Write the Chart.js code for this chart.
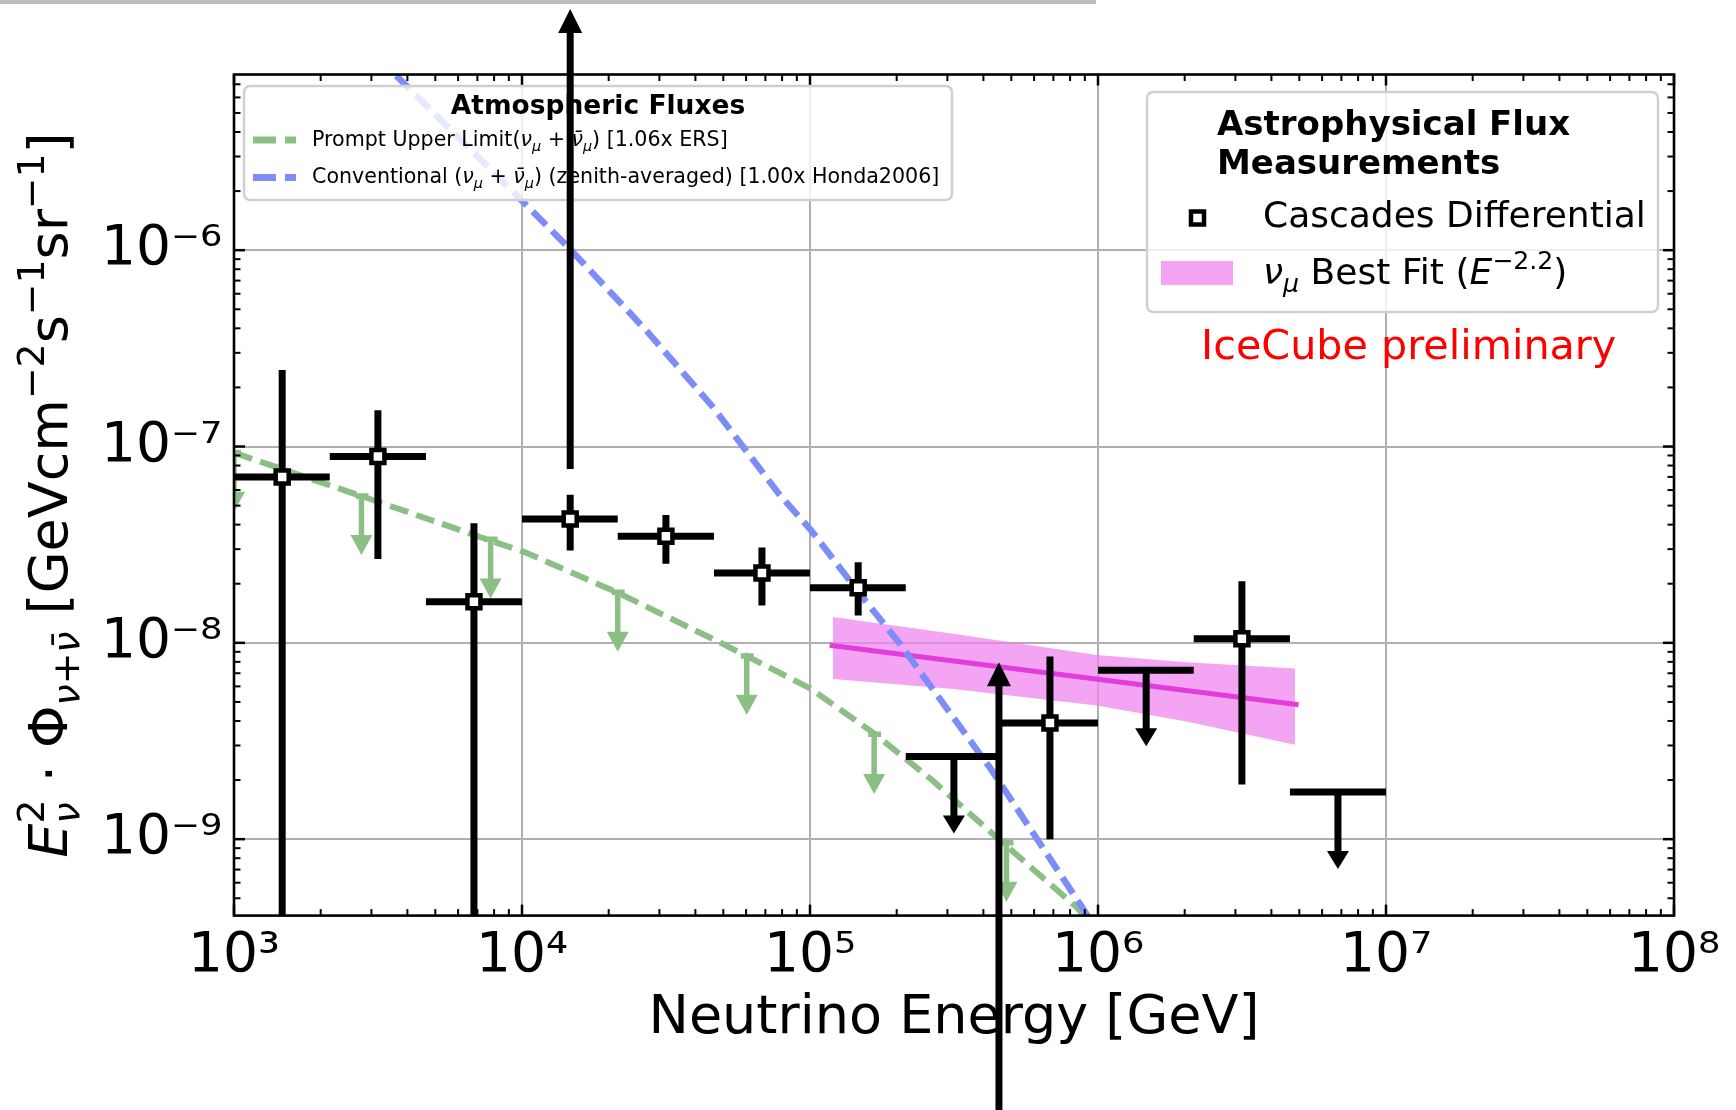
<!DOCTYPE html>
<html>
<head>
<meta charset="utf-8">
<title>Astrophysical neutrino flux – cascades differential</title>
<script src="https://cdn.jsdelivr.net/npm/chart.js@4.4.1/dist/chart.umd.min.js"></script>
<style>
html,body{margin:0;padding:0;background:#ffffff;}
#wrap{position:relative;width:1736px;height:1110px;overflow:hidden;background:#fff;}
#topbar{position:absolute;left:0;top:0;width:1096px;height:4px;background:#bdbdbd;}
canvas{display:block;}
</style>
</head>
<body>
<div id="wrap"><canvas id="chart" width="1736" height="1110"></canvas><div id="topbar"></div></div>
<script>
// ---------------- axis ticks ----------------
const xTickValues = [1e3, 1e4, 1e5, 1e6, 1e7, 1e8];
const xTickLabels = ['10³', '10⁴', '10⁵', '10⁶', '10⁷', '10⁸'];
const yTickValues = [1e-9, 1e-8, 1e-7, 1e-6];
const yTickLabels = ['10⁻⁹', '10⁻⁸', '10⁻⁷', '10⁻⁶'];
const xMin = 1e3, xMax = 1e8;
const yMin = 4.08e-10, yMax = 7.85e-6;

// ---------------- Cascades differential (measured bins) ----------------
const cascE     = [1.47e3, 3.16e3, 6.81e3, 1.47e4, 3.16e4, 6.81e4, 1.47e5, 6.81e5, 3.16e6];
const cascBinLo = [1.0e3, 2.15e3, 4.64e3, 1.0e4, 2.15e4, 4.64e4, 1.0e5, 4.64e5, 2.15e6];
const cascBinHi = [2.15e3, 4.64e3, 1.0e4, 2.15e4, 4.64e4, 1.0e5, 2.15e5, 1.0e6, 4.64e6];
const cascFlux  = [7.0e-8, 8.9e-8, 1.62e-8, 4.27e-8, 3.49e-8, 2.27e-8, 1.91e-8, 3.91e-9, 1.05e-8];
const cascErrHi = [2.45e-7, 1.53e-7, 4.07e-8, 5.68e-8, 4.48e-8, 3.06e-8, 2.57e-8, 8.53e-9, 2.06e-8];
const cascErrLo = [1e-12, 2.67e-8, 1e-12, 2.95e-8, 2.53e-8, 1.55e-8, 1.38e-8, 1.0e-9, 1.90e-9];

// ---------------- Cascades upper limits ----------------
const ulE      = [3.16e5, 1.47e6, 6.81e6];
const ulBinLo  = [2.15e5, 1.0e6, 4.64e6];
const ulBinHi  = [4.64e5, 2.15e6, 1.0e7];
const ulFlux   = [2.64e-9, 7.24e-9, 1.74e-9];
const ulTip    = [1.07e-9, 2.97e-9, 7.05e-10];

// ---------------- overlay arrows ----------------
const bigArrowE    = [1.47e4, 4.53e5];
const bigArrowFrom = [7.69e-8, 1e-11];
const bigArrowTo   = [1.69e-5, 7.96e-9];

// ---------------- Prompt upper limit (ERS) ----------------
const promptE = [1.0e3, 2.81e3, 7.11e3, 1.02e4, 2.15e4, 4.9e4, 1.0e5, 1.65e5, 2.61e5, 4.26e5, 8.36e5, 9.1e5];
const promptF = [9.3e-8, 5.55e-8, 3.47e-8, 2.9e-8, 1.8e-8, 1.0e-8, 5.87e-9, 3.5e-9, 2.04e-9, 1.08e-9, 4.55e-10, 4.0e-10];
const promptArrowE   = [1.0e3, 2.77e3, 7.78e3, 2.15e4, 6.03e4, 1.67e5, 4.81e5];
const promptArrowTop = [9.3e-8, 5.6e-8, 3.37e-8, 1.81e-8, 8.58e-9, 3.42e-9, 9.6e-10];
const promptArrowTip = [4.65e-8, 2.8e-8, 1.68e-8, 9.0e-9, 4.3e-9, 1.7e-9, 4.8e-10];

// ---------------- Conventional (Honda2006) ----------------
const convE = [3.66e3, 1.01e4, 1.50e4, 2.70e4, 4.60e4, 7.85e4, 1.0e5, 1.53e5, 2.04e5, 4.26e5, 8.61e5, 9.27e5];
const convF = [7.74e-6, 1.76e-6, 9.8e-7, 3.9e-7, 1.59e-7, 5.67e-8, 3.8e-8, 1.69e-8, 1.0e-8, 2.26e-9, 4.73e-10, 4.0e-10];

// ---------------- nu_mu best fit ----------------
const fitLineE  = [1.17e5, 4.97e6];
const fitLineF  = [9.71e-9, 4.84e-9];
const fitBandE  = [1.2e5, 3.14e5, 9.9e5, 2.03e6, 4.83e6];
const fitBandHi = [1.355e-8, 1.114e-8, 8.67e-9, 7.96e-9, 7.41e-9];
const fitBandLo = [6.54e-9, 5.82e-9, 4.79e-9, 3.98e-9, 3.03e-9];

// ---------------- style ----------------
const FAM = '"DejaVu Sans"';
const GREEN = '#8cbf86';
const BLUE = '#7c8df7';
const MAGENTA = '#e23ddb';
const BAND = 'rgba(238,130,238,0.72)';
const GRID = '#b0b0b0';

const pts = (xs, ys) => xs.map((x, i) => ({x: x, y: ys[i]}));

// ---------------- rich text helpers ----------------
function segFont(seg, base) {
  const size = base * (seg.s || 1);
  return (seg.i ? 'italic ' : '') + (seg.b ? 'bold ' : '') + size + 'px ' + FAM;
}
function layoutRich(ctx, segs, base) {
  let x = 0, lastStart = 0, lastEnd = 0;
  const items = [];
  for (const seg of segs) {
    ctx.font = segFont(seg, base);
    const w = ctx.measureText(seg.t).width;
    let sx;
    if (seg.stack) { sx = lastStart; x = Math.max(lastEnd, sx + w); }
    else { sx = x; x = sx + w; lastStart = sx; }
    lastEnd = x;
    items.push({seg: seg, x: sx});
  }
  return {items: items, width: x};
}
function drawRich(ctx, segs, x0, y0, base, color, align) {
  const L = layoutRich(ctx, segs, base);
  const off = align === 'center' ? -L.width / 2 : 0;
  ctx.fillStyle = color;
  ctx.textAlign = 'left';
  ctx.textBaseline = 'alphabetic';
  for (const it of L.items) {
    ctx.font = segFont(it.seg, base);
    ctx.fillText(it.seg.t, x0 + off + it.x, y0 + (it.seg.dy || 0) * base);
  }
}
const SUP = {s: 0.7, dy: -0.42};
const SUB = {s: 0.7, dy: 0.22};

const yTitleSegs = [
  {t: 'E', i: 1},
  Object.assign({t: '2'}, SUP),
  Object.assign({t: 'ν', i: 1, stack: 1}, SUB),
  {t: ' · '},
  {t: 'Φ'},
  Object.assign({t: 'ν', i: 1}, SUB),
  Object.assign({t: '+'}, SUB),
  Object.assign({t: 'ν\u0304', i: 1}, SUB),
  {t: ' [GeVcm'},
  Object.assign({t: '−2'}, SUP),
  {t: 's'},
  Object.assign({t: '−1'}, SUP),
  {t: 'sr'},
  Object.assign({t: '−1'}, SUP),
  {t: ']'}
];
const numuSegs = [
  {t: '('}, {t: 'ν', i: 1}, Object.assign({t: 'μ', i: 1}, SUB), {t: ' + '},
  {t: 'ν\u0304', i: 1}, Object.assign({t: 'μ', i: 1}, SUB), {t: ')'}
];
const promptLabel = [{t: 'Prompt Upper Limit'}].concat(numuSegs, [{t: ' [1.06x ERS]'}]);
const convLabel = [{t: 'Conventional '}].concat(numuSegs, [{t: ' (zenith-averaged) [1.00x Honda2006]'}]);
const fitLabel = [{t: 'ν', i: 1}, Object.assign({t: 'μ', i: 1}, SUB), {t: ' Best Fit ('},
  {t: 'E', i: 1}, Object.assign({t: '−2.2'}, SUP), {t: ')'}];

// ---------------- drawing helpers ----------------
function vArrow(ctx, x, y0, y1, lw, hw, hl, color) {
  const dir = Math.sign(y1 - y0) || 1;
  ctx.strokeStyle = color; ctx.fillStyle = color;
  ctx.lineWidth = lw; ctx.lineCap = 'butt'; ctx.setLineDash([]);
  ctx.beginPath(); ctx.moveTo(x, y0); ctx.lineTo(x, y1 - dir * hl * 0.8); ctx.stroke();
  ctx.beginPath();
  ctx.moveTo(x, y1);
  ctx.lineTo(x - hw / 2, y1 - dir * hl);
  ctx.lineTo(x + hw / 2, y1 - dir * hl);
  ctx.closePath(); ctx.fill();
}
function hLine(ctx, x0, x1, y) { ctx.beginPath(); ctx.moveTo(x0, y); ctx.lineTo(x1, y); ctx.stroke(); }
function vLine(ctx, x, y0, y1) { ctx.beginPath(); ctx.moveTo(x, y0); ctx.lineTo(x, y1); ctx.stroke(); }
function clipArea(ctx, ca) { ctx.beginPath(); ctx.rect(ca.left, ca.top, ca.right - ca.left, ca.bottom - ca.top); ctx.clip(); }
function roundBox(ctx, x, y, w, h, r) {
  ctx.beginPath();
  ctx.moveTo(x + r, y); ctx.lineTo(x + w - r, y); ctx.quadraticCurveTo(x + w, y, x + w, y + r);
  ctx.lineTo(x + w, y + h - r); ctx.quadraticCurveTo(x + w, y + h, x + w - r, y + h);
  ctx.lineTo(x + r, y + h); ctx.quadraticCurveTo(x, y + h, x, y + h - r);
  ctx.lineTo(x, y + r); ctx.quadraticCurveTo(x, y, x + r, y); ctx.closePath();
  ctx.fillStyle = 'rgba(255,255,255,0.8)'; ctx.fill();
  ctx.strokeStyle = '#d0d0d0'; ctx.lineWidth = 2.5; ctx.setLineDash([]); ctx.stroke();
}
function minorValues(min, max) {
  const out = [];
  for (let d = Math.floor(Math.log10(min)); d <= Math.ceil(Math.log10(max)); d++) {
    for (let k = 2; k <= 9; k++) { const v = k * Math.pow(10, d); if (v > min && v < max) out.push(v); }
  }
  return out;
}
function squareMarker(ctx, x, y) {
  ctx.fillStyle = '#fff'; ctx.fillRect(x - 6.5, y - 6.5, 13, 13);
  ctx.strokeStyle = '#000'; ctx.lineWidth = 4.5; ctx.setLineDash([]); ctx.strokeRect(x - 6.5, y - 6.5, 13, 13);
}

const extras = {
  id: 'extras',
  afterDatasetDraw(chart, args) {
    if (args.index !== 2) return;
    const ctx = chart.ctx, xs = chart.scales.x, ys = chart.scales.y;
    ctx.save(); clipArea(ctx, chart.chartArea);
    for (let i = 0; i < promptArrowE.length; i++) {
      const x = xs.getPixelForValue(promptArrowE[i]);
      const y0 = ys.getPixelForValue(promptArrowTop[i]);
      const y1 = ys.getPixelForValue(promptArrowTip[i]);
      ctx.strokeStyle = GREEN; ctx.lineWidth = 5.5; ctx.setLineDash([]);
      hLine(ctx, x - 6, x + 7, y0);
      vArrow(ctx, x, y0, y1, 5.5, 22, 20, GREEN);
    }
    ctx.restore();
  },
  beforeDatasetDraw(chart, args) {
    if (args.index !== 0) return;
    const ctx = chart.ctx, xs = chart.scales.x, ys = chart.scales.y;
    ctx.save(); clipArea(ctx, chart.chartArea);
    ctx.strokeStyle = '#000'; ctx.lineWidth = 7; ctx.lineCap = 'butt'; ctx.setLineDash([]);
    for (let i = 0; i < cascE.length; i++) {
      const x = xs.getPixelForValue(cascE[i]);
      const y = ys.getPixelForValue(cascFlux[i]);
      hLine(ctx, xs.getPixelForValue(cascBinLo[i]), xs.getPixelForValue(cascBinHi[i]), y);
      vLine(ctx, x, ys.getPixelForValue(cascErrHi[i]), Math.min(ys.getPixelForValue(cascErrLo[i]), chart.chartArea.bottom + 20));
    }
    for (let i = 0; i < ulE.length; i++) {
      const x = xs.getPixelForValue(ulE[i]);
      const y = ys.getPixelForValue(ulFlux[i]);
      ctx.strokeStyle = '#000'; ctx.lineWidth = 7;
      hLine(ctx, xs.getPixelForValue(ulBinLo[i]), xs.getPixelForValue(ulBinHi[i]), y);
      vArrow(ctx, x, y, ys.getPixelForValue(ulTip[i]), 7, 22, 18, '#000');
    }
    ctx.restore();
  },
  afterDatasetsDraw(chart) {
    const ctx = chart.ctx, xs = chart.scales.x, ys = chart.scales.y, ca = chart.chartArea;
    ctx.save();
    ctx.strokeStyle = '#000'; ctx.setLineDash([]); ctx.lineCap = 'butt';
    ctx.lineWidth = 2.5;
    for (const v of xTickValues) {
      const x = xs.getPixelForValue(v);
      vLine(ctx, x, ca.bottom, ca.bottom - 11); vLine(ctx, x, ca.top, ca.top + 11);
    }
    for (const v of yTickValues) {
      const y = ys.getPixelForValue(v);
      hLine(ctx, ca.left, ca.left + 11, y); hLine(ctx, ca.right, ca.right - 11, y);
    }
    ctx.lineWidth = 2;
    for (const v of minorValues(xMin, xMax)) {
      const x = xs.getPixelForValue(v);
      vLine(ctx, x, ca.bottom, ca.bottom - 6.5); vLine(ctx, x, ca.top, ca.top + 6.5);
    }
    for (const v of minorValues(yMin, yMax)) {
      const y = ys.getPixelForValue(v);
      hLine(ctx, ca.left, ca.left + 6.5, y); hLine(ctx, ca.right, ca.right - 6.5, y);
    }
    ctx.lineWidth = 2.6;
    ctx.strokeRect(ca.left, ca.top, ca.right - ca.left, ca.bottom - ca.top);
    ctx.restore();
  },
  afterDraw(chart) {
    const ctx = chart.ctx, xs = chart.scales.x, ys = chart.scales.y;
    // y-axis title
    ctx.save();
    ctx.translate(67, 495); ctx.rotate(-Math.PI / 2);
    drawRich(ctx, yTitleSegs, 0, 0, 54, '#000', 'center');
    ctx.restore();

    // Atmospheric legend
    ctx.save();
    roundBox(ctx, 244, 86, 708, 114, 7);
    ctx.fillStyle = '#000'; ctx.font = 'bold 26.5px ' + FAM; ctx.textAlign = 'center'; ctx.textBaseline = 'alphabetic';
    ctx.fillText('Atmospheric Fluxes', 598, 114);
    ctx.lineCap = 'butt';
    ctx.setLineDash([23, 9]); ctx.lineWidth = 7;
    ctx.strokeStyle = GREEN; hLine(ctx, 253, 296, 140);
    ctx.strokeStyle = BLUE; hLine(ctx, 253, 296, 177.5);
    ctx.setLineDash([]);
    drawRich(ctx, promptLabel, 312, 146, 20.6, '#000', 'left');
    drawRich(ctx, convLabel, 312, 183, 20.6, '#000', 'left');
    ctx.restore();

    // Astrophysical legend
    ctx.save();
    roundBox(ctx, 1147, 92, 511, 220, 7);
    ctx.fillStyle = '#000'; ctx.font = 'bold 34px ' + FAM; ctx.textAlign = 'left'; ctx.textBaseline = 'alphabetic';
    ctx.fillText('Astrophysical Flux', 1217, 135);
    ctx.fillText('Measurements', 1217, 174);
    squareMarker(ctx, 1197.5, 218);
    ctx.font = '36px ' + FAM; ctx.fillStyle = '#000';
    ctx.fillText('Cascades Differential', 1263, 227);
    ctx.fillStyle = BAND; ctx.fillRect(1161, 261, 72, 24);
    drawRich(ctx, fitLabel, 1263, 284, 36, '#000', 'left');
    ctx.font = '41.3px ' + FAM; ctx.fillStyle = '#ff0000';
    ctx.fillText('IceCube preliminary', 1201, 359);
    ctx.restore();

    // overlay arrows (not clipped)
    ctx.save();
    for (let i = 0; i < bigArrowE.length; i++) {
      const x = xs.getPixelForValue(bigArrowE[i]);
      vArrow(ctx, x, ys.getPixelForValue(bigArrowFrom[i]), ys.getPixelForValue(bigArrowTo[i]), 7, 24, 24, '#000');
    }
    ctx.restore();
  }
};

Chart.defaults.font.family = FAM;
Chart.defaults.color = '#000';

const chart = new Chart(document.getElementById('chart'), {
  type: 'line',
  data: {
    datasets: [
      { label: 'Cascades Differential', data: pts(cascE, cascFlux), showLine: false,
        pointStyle: 'rect', pointRadius: 9.2, pointBorderWidth: 4.5, borderWidth: 4.5,
        borderColor: '#000', backgroundColor: '#fff', pointBackgroundColor: '#fff', order: 0 },
      { label: 'Conventional (zenith-averaged) [1.00x Honda2006]', data: pts(convE, convF),
        borderColor: BLUE, borderWidth: 6.5, borderDash: [19, 8.5], pointRadius: 0, fill: false, tension: 0, order: 1 },
      { label: 'Prompt Upper Limit [1.06x ERS]', data: pts(promptE, promptF),
        borderColor: GREEN, borderWidth: 6, borderDash: [19, 8.5], pointRadius: 0, fill: false, tension: 0, order: 2 },
      { label: 'nu_mu Best Fit line', data: pts(fitLineE, fitLineF),
        borderColor: MAGENTA, borderWidth: 5, pointRadius: 0, fill: false, order: 3 },
      { label: 'nu_mu Best Fit upper', data: pts(fitBandE, fitBandHi),
        borderColor: 'rgba(0,0,0,0)', borderWidth: 1, pointRadius: 0, fill: false, order: 4 },
      { label: 'nu_mu Best Fit (E^-2.2)', data: pts(fitBandE, fitBandLo),
        borderColor: 'rgba(0,0,0,0)', borderWidth: 1, pointRadius: 0, fill: '-1', backgroundColor: BAND, order: 5 }
    ]
  },
  options: {
    responsive: false,
    devicePixelRatio: 1,
    animation: false,
    events: [],
    layout: { padding: { left: 0, right: 62, top: 74.5, bottom: 0 } },
    plugins: { legend: { display: false }, tooltip: { enabled: false } },
    scales: {
      x: {
        type: 'logarithmic', min: xMin, max: xMax, position: 'bottom',
        afterBuildTicks: s => { s.ticks = xTickValues.map(v => ({value: v})); },
        afterFit: s => { s.height = 194.4; },
        ticks: { callback: (v, i) => xTickLabels[i], font: {size: 55, family: FAM}, color: '#000',
                 padding: 8, autoSkip: false, maxRotation: 0, minRotation: 0 },
        grid: { color: GRID, lineWidth: 2, drawTicks: false },
        border: { display: false },
        title: { display: true, text: 'Neutrino Energy [GeV]', font: {size: 54, family: FAM}, color: '#000',
                 padding: {top: 0, bottom: 59} }
      },
      y: {
        type: 'logarithmic', min: yMin, max: yMax, position: 'left',
        afterBuildTicks: s => { s.ticks = yTickValues.map(v => ({value: v})); },
        afterFit: s => { s.width = 234; },
        ticks: { callback: (v, i) => yTickLabels[i], font: {size: 55, family: FAM}, color: '#000',
                 padding: 12, autoSkip: false },
        grid: { color: GRID, lineWidth: 2, drawTicks: false },
        border: { display: false },
        title: { display: false }
      }
    }
  },
  plugins: [extras]
});
</script>
</body>
</html>
